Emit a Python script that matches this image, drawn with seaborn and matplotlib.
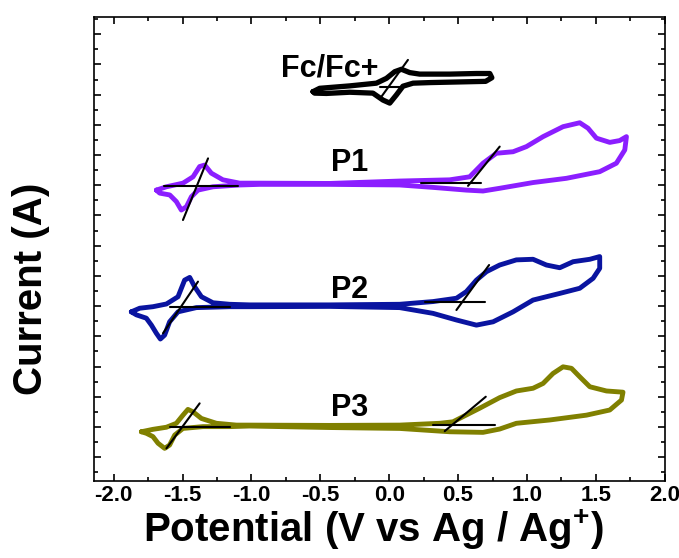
import numpy as np
import seaborn as sns
import matplotlib.pyplot as plt
from matplotlib.ticker import MultipleLocator, NullFormatter

# potential (V vs Ag/Ag+) and current (arbitrary offset units)
fc_E = [-0.553, -0.505, -0.287, -0.093, -0.020, 0.040, 0.089, 0.149, 0.221, 0.439, 0.633, 0.730, 0.745,
        0.700, 0.500, 0.300, 0.173, 0.100, 0.052, 0.004, -0.045, -0.118, -0.287, -0.456, -0.541]
fc_I = [12.10, 12.21, 12.29, 12.38, 12.54, 12.76, 12.84, 12.73, 12.68, 12.68, 12.70, 12.70, 12.56,
        12.44, 12.42, 12.40, 12.38, 12.28, 11.99, 11.72, 11.82, 12.05, 12.08, 12.04, 12.05]

p1_E = [-1.690, -1.617, -1.497, -1.424, -1.376, -1.339, -1.291, -1.207, -1.085, -0.940, -0.432, 0.076,
        0.439, 0.584, 0.681, 0.778, 0.899, 0.996, 1.117, 1.262, 1.383, 1.443, 1.504, 1.601, 1.673, 1.722,
        1.710, 1.649, 1.528, 1.286, 1.044, 0.802, 0.681, 0.560, 0.318, 0.076, -0.432, -0.940, -1.085,
        -1.279, -1.388, -1.436, -1.472, -1.509, -1.545, -1.593, -1.666]
p1_I = [8.84, 8.95, 9.07, 9.28, 9.62, 9.67, 9.40, 9.18, 9.07, 9.07, 9.06, 9.14,
        9.18, 9.28, 9.73, 10.06, 10.11, 10.28, 10.61, 10.94, 11.07, 10.89, 10.56, 10.42, 10.48, 10.61,
        10.17, 9.73, 9.45, 9.23, 9.09, 8.90, 8.81, 8.84, 8.93, 9.01, 9.03, 9.03, 9.01,
        8.95, 8.84, 8.62, 8.29, 8.18, 8.46, 8.68, 8.74]

p2_E = [-1.872, -1.811, -1.715, -1.617, -1.533, -1.485, -1.448, -1.412, -1.363, -1.279, -1.158, -1.013,
        -0.432, 0.076, 0.318, 0.488, 0.560, 0.633, 0.706, 0.802, 0.923, 1.044, 1.141, 1.238, 1.335, 1.456,
        1.528, 1.528, 1.480, 1.383, 1.238, 1.044, 0.899, 0.754, 0.633, 0.488, 0.318, 0.076, -0.432,
        -1.013, -1.158, -1.400, -1.533, -1.594, -1.630, -1.661, -1.690, -1.726, -1.763, -1.835]
p2_I = [4.81, 4.93, 4.98, 5.07, 5.31, 5.86, 5.95, 5.64, 5.31, 5.11, 5.06, 5.04,
        5.04, 5.06, 5.15, 5.26, 5.48, 5.86, 6.14, 6.36, 6.53, 6.55, 6.36, 6.27, 6.47, 6.55,
        6.64, 6.25, 5.92, 5.59, 5.42, 5.20, 4.81, 4.48, 4.37, 4.54, 4.76, 4.95, 4.99,
        4.98, 4.98, 4.95, 4.81, 4.48, 4.04, 3.91, 4.10, 4.37, 4.60, 4.71]

p3_E = [-1.799, -1.715, -1.617, -1.545, -1.497, -1.461, -1.424, -1.363, -1.254, -1.109, -1.013, -0.432,
        0.076, 0.367, 0.463, 0.536, 0.657, 0.802, 0.923, 1.044, 1.117, 1.189, 1.262, 1.323, 1.383, 1.456,
        1.577, 1.697, 1.686, 1.601, 1.432, 1.165, 0.923, 0.802, 0.681, 0.439, 0.076, -0.432, -1.013,
        -1.158, -1.352, -1.497, -1.557, -1.594, -1.630, -1.678, -1.715, -1.763]
p3_I = [0.84, 0.92, 0.99, 1.12, 1.39, 1.58, 1.50, 1.28, 1.12, 1.06, 1.06, 1.05,
        1.06, 1.12, 1.17, 1.34, 1.62, 1.97, 2.19, 2.28, 2.44, 2.77, 2.99, 2.94, 2.66, 2.33,
        2.19, 2.15, 1.89, 1.56, 1.39, 1.23, 1.12, 0.93, 0.82, 0.84, 0.95, 0.98, 1.03,
        1.01, 1.01, 0.95, 0.73, 0.40, 0.29, 0.46, 0.68, 0.79]

# onset tangent lines (start/end points)
tan_E = [[-0.057, 0.136], [-0.069, 0.100],
         [-1.497, -1.315], [-1.632, -1.098], [0.572, 0.802], [0.234, 0.669],
         [-1.642, -1.388], [-1.594, -1.158], [0.488, 0.725], [0.258, 0.693],
         [-1.617, -1.376], [-1.594, -1.158], [0.403, 0.701], [0.318, 0.766]]
tan_I = [[11.93, 13.15], [12.25, 12.25],
         [7.85, 9.89], [8.98, 8.98], [8.98, 10.28], [9.09, 9.09],
         [4.10, 5.81], [4.98, 4.98], [4.87, 6.36], [5.13, 5.13],
         [0.29, 1.78], [0.99, 0.99], [0.86, 2.00], [1.06, 1.06]]

labels = ['Fc/Fc+', 'P1', 'P2', 'P3']
label_E = [-0.432, -0.287, -0.287, -0.287]
label_I = [12.88, 9.74, 5.53, 1.63]

sns.set_style('ticks')
plt.rcParams['font.family'] = ['Liberation Sans', 'DejaVu Sans']
plt.rcParams['font.weight'] = 'bold'
plt.rcParams['mathtext.fontset'] = 'custom'
plt.rcParams['mathtext.bf'] = 'Liberation Sans:bold'
plt.rcParams['mathtext.rm'] = 'Liberation Sans:bold'
plt.rcParams['axes.unicode_minus'] = False
for k in ['text.color', 'axes.labelcolor', 'xtick.color', 'ytick.color', 'axes.edgecolor']:
    plt.rcParams[k] = 'black'

fig = plt.figure(figsize=(6.79, 5.58), dpi=100)
ax = fig.add_axes([0.139, 0.138, 0.840, 0.8315])

curves = [(fc_E, fc_I, 'black', 3.8),
          (p1_E, p1_I, '#8B1EFF', 3.5),
          (p2_E, p2_I, '#0A14A0', 3.5),
          (p3_E, p3_I, '#808000', 3.5)]
for E, I, c, lw in curves:
    sns.lineplot(x=E + E[:1], y=I + I[:1], sort=False, estimator=None, color=c, lw=lw,
                 solid_joinstyle='round', solid_capstyle='round', ax=ax)

for E, I in zip(tan_E, tan_I):
    ax.plot(E, I, color='black', lw=1.5, zorder=5)

for t, e, i in zip(labels, label_E, label_I):
    ax.text(e, i, t, ha='center', va='center', fontsize=22, fontweight='bold')

ax.set_xlim(-2.14, 2.0)
ax.set_ylim(-0.79, 14.57)
ax.xaxis.set_major_locator(MultipleLocator(0.5))
ax.xaxis.set_minor_locator(MultipleLocator(0.25))
ax.yaxis.set_major_locator(MultipleLocator(1))
ax.yaxis.set_minor_locator(MultipleLocator(0.5))
ax.yaxis.set_major_formatter(NullFormatter())
ax.tick_params(which='both', direction='in', top=True, right=True, width=1.2)
ax.tick_params(which='major', length=5, labelsize=16, pad=3)
ax.tick_params(which='minor', length=3)
for s in ax.spines.values():
    s.set_linewidth(1.2)

ax.set_xlabel(r'Potential (V vs Ag / Ag$^{\mathbf{+}}$)', fontsize=29, fontweight='bold')
ax.set_ylabel('Current (A)', fontsize=29, fontweight='bold')
ax.xaxis.set_label_coords(0.49, -0.058)
ax.yaxis.set_label_coords(-0.078, 0.414)

fig.savefig('out.png', dpi=100)
